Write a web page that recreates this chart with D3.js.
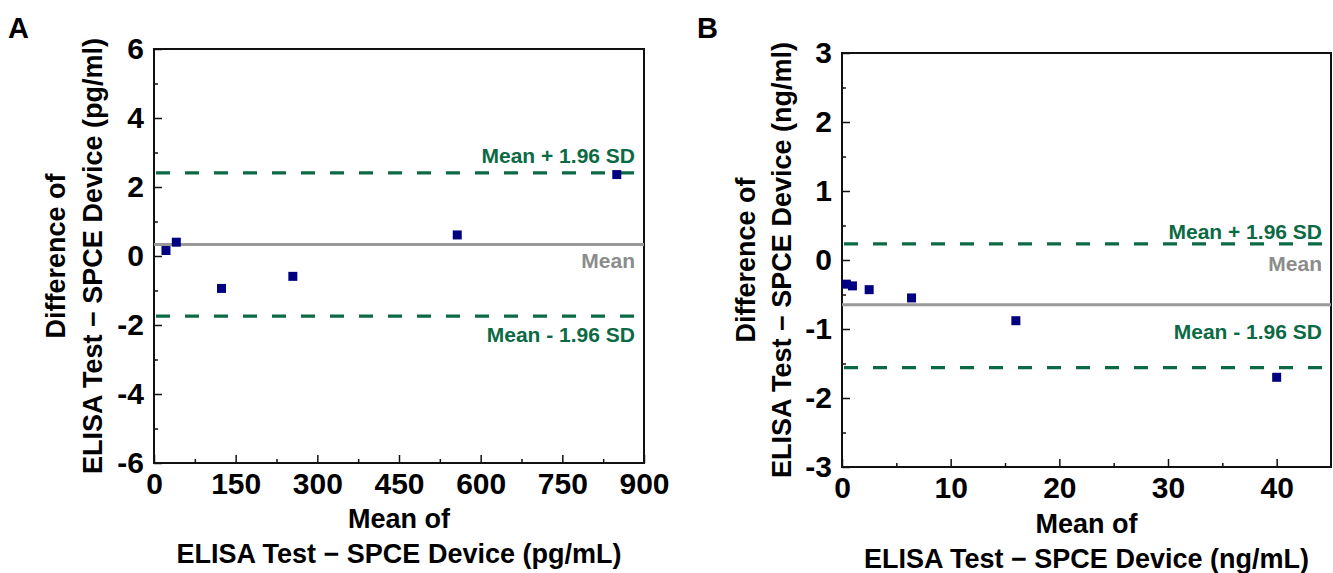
<!DOCTYPE html>
<html>
<head>
<meta charset="utf-8">
<script src="https://cdn.jsdelivr.net/npm/d3@7"></script>
<style>
  body { margin: 0; background: #fff; }
  svg text { font-family: "Liberation Sans", Arial, sans-serif; font-weight: bold; }
</style>
</head>
<body>
<div id="chart"></div>
<script>
// panel A (pg/ml)
const meanA = [22, 41, 124, 255, 557, 850];
const diffA = [0.16, 0.40, -0.94, -0.59, 0.61, 2.36];
const biasA = 0.33, upperA = 2.41, lowerA = -1.74;
const xTicksA = [0, 150, 300, 450, 600, 750, 900];
const yTicksA = [-6, -4, -2, 0, 2, 4, 6];

// panel B (ng/ml)
const meanB = [0.4, 0.96, 2.5, 6.4, 16.0, 40.0];
const diffB = [-0.35, -0.375, -0.43, -0.55, -0.88, -1.70];
const biasB = -0.65, upperB = 0.235, lowerB = -1.56;
const xTicksB = [0, 10, 20, 30, 40];
const yTicksB = [-3, -2, -1, 0, 1, 2, 3];

const green = "#0b6a44", gray = "#999999", navy = "#000080";
const plain = d => String(d);   // hyphen minus like the original

const svg = d3.select("#chart").append("svg")
    .attr("width", 1333)
    .attr("height", 573);

function drawPanel(p) {
    const x = d3.scaleLinear().domain(p.xDomain).range([p.left, p.right]);
    const y = d3.scaleLinear().domain(p.yDomain).range([p.bottom, p.top]);
    const g = svg.append("g");

    // minor ticks
    g.append("g")
        .attr("transform", `translate(0,${p.bottom})`)
        .call(d3.axisTop(x).tickValues(p.xMinor).tickSize(4).tickFormat(""))
        .call(a => a.select(".domain").remove())
        .selectAll("line").attr("stroke", "#111").attr("stroke-width", 1.5);
    g.append("g")
        .attr("transform", `translate(${p.left},0)`)
        .call(d3.axisRight(y).tickValues(p.yMinor).tickSize(4).tickFormat(""))
        .call(a => a.select(".domain").remove())
        .selectAll("line").attr("stroke", "#111").attr("stroke-width", 1.5);

    // major ticks + labels
    const xa = g.append("g")
        .attr("transform", `translate(0,${p.bottom})`)
        .call(d3.axisBottom(x).tickValues(p.xTicks).tickSize(0).tickPadding(10).tickFormat(plain));
    xa.select(".domain").remove();
    xa.selectAll("text").attr("font-size", 30).attr("fill", "#000").attr("dy", "0.71em");
    g.append("g")
        .attr("transform", `translate(0,${p.bottom})`)
        .call(d3.axisTop(x).tickValues(p.xTicks).tickSize(8).tickFormat(""))
        .call(a => a.select(".domain").remove())
        .selectAll("line").attr("stroke", "#111").attr("stroke-width", 1.5);

    const ya = g.append("g")
        .attr("transform", `translate(${p.left},0)`)
        .call(d3.axisLeft(y).tickValues(p.yTicks).tickSize(0).tickPadding(10).tickFormat(plain));
    ya.select(".domain").remove();
    ya.selectAll("text").attr("font-size", 30).attr("fill", "#000");
    g.append("g")
        .attr("transform", `translate(${p.left},0)`)
        .call(d3.axisRight(y).tickValues(p.yTicks).tickSize(8).tickFormat(""))
        .call(a => a.select(".domain").remove())
        .selectAll("line").attr("stroke", "#111").attr("stroke-width", 1.5);

    // frame
    g.append("rect")
        .attr("x", p.left).attr("y", p.top)
        .attr("width", p.right - p.left).attr("height", p.bottom - p.top)
        .attr("fill", "none").attr("stroke", "#111").attr("stroke-width", 2);

    // limit lines
    g.append("line")
        .attr("x1", p.left).attr("x2", p.right)
        .attr("y1", y(p.bias)).attr("y2", y(p.bias))
        .attr("stroke", gray).attr("stroke-width", 3);
    [p.upper, p.lower].forEach(v => {
        g.append("line")
            .attr("x1", p.left + 2).attr("x2", p.right)
            .attr("y1", y(v)).attr("y2", y(v))
            .attr("stroke", green).attr("stroke-width", 3.3)
            .attr("stroke-dasharray", "14,15");
    });

    // labels for lines
    const lx = p.right - 9;
    g.append("text").attr("x", lx).attr("y", y(p.upper) - p.upOff)
        .attr("text-anchor", "end").attr("font-size", 21).attr("fill", green)
        .text("Mean + 1.96 SD");
    g.append("text").attr("x", lx).attr("y", y(p.bias) + p.meanOff)
        .attr("text-anchor", "end").attr("font-size", 21).attr("fill", "#8c8c8c")
        .text("Mean");
    g.append("text").attr("x", lx).attr("y", p.lowLabelY(y))
        .attr("text-anchor", "end").attr("font-size", 21).attr("fill", green)
        .text("Mean - 1.96 SD");

    // points
    const pts = p.xs.map((d, i) => ({ m: d, d: p.ys[i] }));
    g.selectAll(".pt")
        .data(pts)
        .enter()
        .append("rect")
        .attr("class", "pt")
        .attr("x", d => x(d.m) - 4.5)
        .attr("y", d => y(d.d) - 4.5)
        .attr("width", 9).attr("height", 9)
        .attr("fill", navy);

    // titles
    const cy = (p.top + p.bottom) / 2;
    g.append("text")
        .attr("transform", `translate(${p.yTitleX},${cy}) rotate(-90)`)
        .attr("text-anchor", "middle").attr("font-size", 27)
        .text("Difference of");
    g.append("text")
        .attr("transform", `translate(${p.yTitleX + p.yGap},${cy}) rotate(-90)`)
        .attr("text-anchor", "middle").attr("font-size", 27)
        .text(p.yTitle);
    const cx = (p.left + p.right) / 2;
    g.append("text").attr("x", cx).attr("y", p.xTitleY)
        .attr("text-anchor", "middle").attr("font-size", 27)
        .text("Mean of");
    g.append("text").attr("x", cx).attr("y", p.xTitleY + 35)
        .attr("text-anchor", "middle").attr("font-size", 27)
        .text(p.xTitle);

    // panel letter
    g.append("text").attr("x", p.letterX).attr("y", 38)
        .attr("font-size", 29).text(p.letter);
}

drawPanel({
    letter: "A", letterX: 8,
    left: 154, right: 644, top: 49, bottom: 463,
    xDomain: [0, 900], yDomain: [-6, 6],
    xTicks: xTicksA, yTicks: yTicksA,
    xMinor: [75, 225, 375, 525, 675, 825],
    yMinor: [-5, -3, -1, 1, 3, 5],
    xs: meanA, ys: diffA,
    bias: biasA, upper: upperA, lower: lowerA,
    upOff: 10, meanOff: 23,
    lowLabelY: y => y(lowerA) + 26,
    yTitleX: 65, yGap: 37, yTitle: "ELISA Test \u2212 SPCE Device (pg/ml)",
    xTitleY: 528, xTitle: "ELISA Test \u2212 SPCE Device (pg/mL)"
});

drawPanel({
    letter: "B", letterX: 697,
    left: 842, right: 1331, top: 53, bottom: 467,
    xDomain: [0, 45], yDomain: [-3, 3],
    xTicks: xTicksB, yTicks: yTicksB,
    xMinor: [5, 15, 25, 35],
    yMinor: [-2.5, -1.5, -0.5, 0.5, 1.5, 2.5],
    xs: meanB, ys: diffB,
    bias: biasB, upper: upperB, lower: lowerB,
    upOff: 5, meanOff: -34,
    lowLabelY: y => y(biasB) + 34,
    yTitleX: 755, yGap: 36, yTitle: "ELISA Test \u2212 SPCE Device (ng/ml)",
    xTitleY: 533, xTitle: "ELISA Test \u2212 SPCE Device (ng/mL)"
});
</script>
</body>
</html>
